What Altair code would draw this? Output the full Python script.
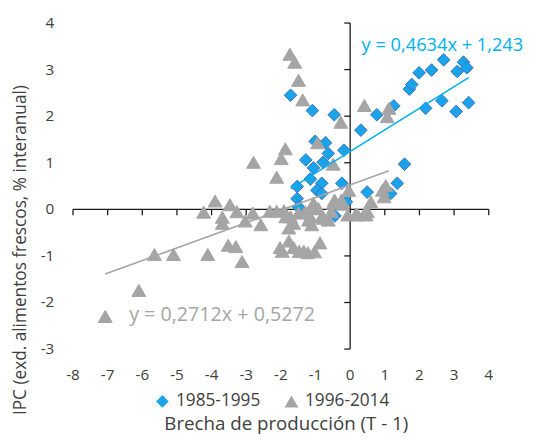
import altair as alt
import pandas as pd

# ---------------- data ----------------
series_names = ["1985-1995", "1996-2014"]

blue_x = [-1.72, -1.09, -0.46, 0.31, 0.77, 1.26, 1.71, 1.78, 1.99, 2.35, 2.70, 2.18, 2.65,
          3.06, 3.42, 3.09, 3.27, 3.37, 1.57, 1.36, 1.17, 0.49, -0.18, -0.24, -0.11, -0.63,
          -0.78, -1.28, -1.06, -1.15, -0.82, -0.96, -0.82, -1.53, -1.53, -1.49, -0.44,
          -1.01, -0.71]
blue_y = [2.45, 2.12, 2.03, 1.70, 2.03, 2.22, 2.58, 2.68, 2.93, 2.99, 3.21, 2.17, 2.33,
          2.10, 2.29, 2.96, 3.16, 3.04, 0.97, 0.56, 0.34, 0.37, 1.27, 0.56, 0.16, 1.20,
          1.01, 1.06, 0.89, 0.65, 0.56, 0.41, 0.34, 0.49, 0.23, 0.05, -0.14,
          1.46, 1.43]

gray_x = [-7.07, -6.10, -5.65, -5.10, -4.11, -3.52, -3.30, -3.12, -4.23, -3.90, -3.69, -3.69,
          -3.47, -3.27, -3.03, -2.81, -2.58, -2.32, -2.12, -1.91, -1.72, -1.77, -1.49, -1.20,
          -1.01, -0.82, -0.63, -0.49, -0.25, -0.07, 0.17, 0.41, -2.02, -1.77, -1.96, -1.63,
          -1.47, -1.22, -1.03, -0.87, -1.74, -1.60, -1.49, -1.37, -0.27, -1.87, -1.99, -2.79,
          -2.12, -0.94, -0.49, -0.04, -0.45, 0.41, 1.12, 1.07, 1.03, 0.98, 0.60, 0.22, 0.46,
          -0.21, -1.06, -0.92, -1.30, -1.86, -1.63, -1.15, -0.78, -1.11, 0.50, 0.93, -1.34,
          -0.54]
gray_y = [-2.30, -1.74, -0.97, -0.97, -0.97, -0.77, -0.80, -1.12, -0.06, 0.18, -0.17, -0.30,
          0.10, -0.05, -0.25, -0.08, -0.33, -0.04, -0.04, -0.03, -0.16, -0.40, -0.08, -0.23,
          0.06, -0.16, -0.23, 0.13, 0.20, -0.12, -0.10, -0.10, -0.82, -0.68, -0.90, -0.82,
          -0.90, -0.93, -0.91, -0.72, 3.33, 3.16, 2.77, 2.35, 1.87, 1.30, 1.09, 1.01,
          0.69, 1.43, 0.97, 0.41, 0.20, 2.23, 2.17, 1.99, 0.51, 0.27, 0.16, -0.12, -0.12,
          0.11, 0.13, 0.02, -0.05, -0.16, -0.30, -0.16, -0.19, -0.33, -0.05, 0.41, -0.90,
          -0.05]

slopes = [0.4634, 0.2712]
intercepts = [1.243, 0.5272]
eq_labels = ["y = 0,4634x + 1,243", "y = 0,2712x + 0,5272"]
eq_x = [0.33, -6.38]
eq_y = [3.53, -2.26]

x_ticks = list(range(-8, 5))
y_ticks = list(range(-3, 5))

x_title = "Brecha de producción (T - 1)"
y_title = "IPC (exd. alimentos frescos, % interanual)"

# ---------------- styles ----------------
BLUE_FILL = "#19A3E8"
BLUE_STROKE = "#3D72C2"
BLUE_LINE = "#00B0F0"
GRAY = "#A5A5A5"
TEXT = "#404040"
AXIS = "#1a1a1a"
FONT = "Open Sans"

pts = pd.DataFrame({
    "x": blue_x + gray_x,
    "y": blue_y + gray_y,
    "serie": [series_names[0]] * len(blue_x) + [series_names[1]] * len(gray_x),
})

xs = [blue_x, gray_x]
trend = pd.DataFrame({
    "serie": series_names,
    "x1": [min(v) for v in xs],
    "x2": [max(v) for v in xs],
})
trend["y1"] = [s * a + b for s, a, b in zip(slopes, trend["x1"], intercepts)]
trend["y2"] = [s * a + b for s, a, b in zip(slopes, trend["x2"], intercepts)]

eqs = pd.DataFrame({"serie": series_names, "x": eq_x, "y": eq_y, "label": eq_labels})

axis_lines = pd.DataFrame({
    "x1": [min(x_ticks), 0], "x2": [max(x_ticks), 0],
    "y1": [0, min(y_ticks)], "y2": [0, max(y_ticks)],
})
xt = pd.DataFrame({"x1": x_ticks, "lab": [str(v) for v in x_ticks]})
yt = pd.DataFrame({"y1": y_ticks, "lab": [str(v) for v in y_ticks]})

xscale = alt.Scale(domain=[min(x_ticks), max(x_ticks)], nice=False, zero=False)
yscale = alt.Scale(domain=[min(y_ticks), max(y_ticks)], nice=False, zero=False)

xaxis = alt.Axis(values=x_ticks, domain=False, ticks=False, labels=False, grid=False,
                 title=x_title, titleFont=FONT, titleFontSize=19, titleFontWeight="normal",
                 titleColor=TEXT, titleBaseline="alphabetic", titleY=82, titleX=216,
                 titleAlign="center")
yaxis = alt.Axis(values=y_ticks, domain=False, ticks=False, labels=False, grid=False,
                 title=y_title, titleFont=FONT, titleFontSize=17.5, titleFontWeight="normal",
                 titleColor=TEXT, titleAngle=270, titleBaseline="alphabetic",
                 titleX=-48, titleY=230, titleAlign="center")


def X(field):
    return alt.X(field, scale=xscale, axis=xaxis, title=x_title)


def Y(field):
    return alt.Y(field, scale=yscale, axis=yaxis, title=y_title)


axes_layer = alt.Chart(axis_lines).mark_rule(color=AXIS, strokeWidth=1.3).encode(
    x=X("x1:Q"), x2="x2:Q", y=Y("y1:Q"), y2="y2:Q")

xticks_layer = alt.Chart(xt).mark_rule(color=AXIS, strokeWidth=1.3, y2Offset=6).encode(
    x=X("x1:Q"), y=alt.datum(0, scale=yscale), y2=alt.datum(0))
yticks_layer = alt.Chart(yt).mark_rule(color=AXIS, strokeWidth=1.3, xOffset=-6).encode(
    y=Y("y1:Q"), x=alt.datum(0, scale=xscale), x2=alt.datum(0))

xlabels_layer = alt.Chart(xt).mark_text(
    dy=26, align="center", baseline="middle", fontSize=15.5, font=FONT, color=TEXT
).encode(x=X("x1:Q"), y=alt.datum(min(y_ticks), scale=yscale), text="lab:N")
ylabels_layer = alt.Chart(yt).mark_text(
    dx=-19, align="right", baseline="middle", fontSize=15.5, font=FONT, color=TEXT
).encode(y=Y("y1:Q"), x=alt.datum(min(x_ticks), scale=xscale), text="lab:N")

leg = alt.Legend(orient="none", legendX=82, legendY=375, direction="horizontal", title=None,
                 labelFontSize=17.5, labelFont=FONT, labelColor=TEXT, symbolSize=64,
                 labelOffset=5, columnPadding=22, padding=0, symbolStrokeWidth=0)

points = alt.Chart(pts).mark_point(filled=True, opacity=1, strokeWidth=1).encode(
    x=X("x:Q"),
    y=Y("y:Q"),
    color=alt.Color("serie:N", scale=alt.Scale(domain=series_names, range=[BLUE_FILL, GRAY]), legend=leg),
    shape=alt.Shape("serie:N", scale=alt.Scale(domain=series_names, range=["diamond", "triangle-up"]), legend=leg),
    stroke=alt.Stroke("serie:N", scale=alt.Scale(domain=series_names, range=[BLUE_STROKE, GRAY]), legend=None),
    size=alt.Size("serie:N", scale=alt.Scale(domain=series_names, range=[165, 200]), legend=None),
)

line_layers = []
text_layers = []
for name, col, fs in zip(series_names, [BLUE_LINE, GRAY], [18.5, 20]):
    line_layers.append(
        alt.Chart(trend).transform_filter(alt.datum.serie == name)
        .mark_rule(color=col, strokeWidth=1.6)
        .encode(x=X("x1:Q"), x2="x2:Q", y=Y("y1:Q"), y2="y2:Q"))
    text_layers.append(
        alt.Chart(eqs).transform_filter(alt.datum.serie == name)
        .mark_text(align="left", baseline="middle", fontSize=fs, font=FONT, color=col)
        .encode(x=X("x:Q"), y=Y("y:Q"), text="label:N"))

chart = alt.layer(
    axes_layer, xticks_layer, yticks_layer, xlabels_layer, ylabels_layer,
    points, *line_layers, *text_layers
).properties(
    width=422, height=331,
    autosize=alt.AutoSizeParams(type="none"),
    padding={"left": 66, "top": 12, "right": 48, "bottom": 86},
    background="white",
).configure_view(stroke=None)

chart.save("out.html", embed_options={"renderer": "svg", "actions": False})
